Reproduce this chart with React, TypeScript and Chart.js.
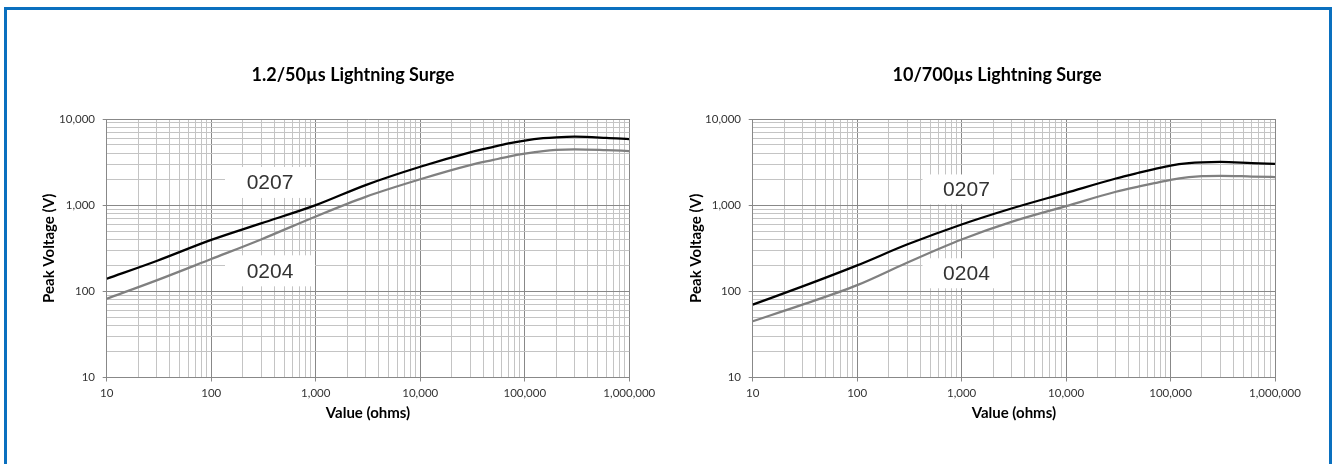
import React, { useEffect, useRef } from "react";
import { Chart, registerables } from "chart.js";

Chart.register(...registerables);

// ---- data ----
const resistanceOhms = [10, 30, 100, 300, 1000, 3000, 10000, 30000, 50000, 70000, 100000, 150000, 200000, 300000, 600000, 1000000];

const surge1250_0207 = [140, 225, 395, 615, 1000, 1710, 2790, 4100, 4750, 5200, 5620, 5980, 6130, 6230, 6050, 5850];
const surge1250_0204 = [82, 134, 237, 400, 740, 1250, 2000, 2920, 3350, 3660, 3960, 4250, 4380, 4440, 4350, 4250];

const surge10700_0207 = [70, 114, 200, 349, 597, 915, 1390, 2040, 2380, 2620, 2880, 3070, 3140, 3170, 3080, 3020];
const surge10700_0204 = [45, 70, 118, 215, 400, 640, 975, 1430, 1650, 1800, 1970, 2110, 2170, 2190, 2150, 2120];

const seriesNames = ["0207", "0204"];

const xDecades = [10, 100, 1000, 10000, 100000, 1000000];
const yDecades = [10, 100, 1000, 10000];
const minorMultipliers = [1, 2, 3, 4, 5, 6, 7, 8, 9];

// label anchor points (data coordinates)
const leftLabelX = [365, 365];
const leftLabelY = [1835, 173];
const rightLabelX = [1113, 1113];
const rightLabelY = [1522, 162];

const titles = ["1.2/50\u00b5s Lightning Surge", "10/700\u00b5s Lightning Surge"];
const xAxisTitle = "Value (ohms)";
const yAxisTitle = "Peak Voltage (V)";

// ---- helpers ----
function gridValues(decades: number[]) {
  const out: number[] = [];
  for (let i = 0; i < decades.length; i++) {
    if (i === decades.length - 1) {
      out.push(decades[i]);
      break;
    }
    for (const m of minorMultipliers) out.push(decades[i] * m);
  }
  return out;
}
function isDecade(v: any) {
  if (v === undefined || v === null || v <= 0) return false;
  const l = Math.log10(v);
  return Math.abs(l - Math.round(l)) < 1e-9;
}
const MAJOR = "#888888";
const MINOR = "#c4c4c4";
const FONT = "Lato, 'Open Sans', sans-serif";

type Box = { x: number; y: number; text: string; w: number; h: number };

function makeBoxPlugin(boxes: Box[]) {
  return {
    id: "valueBoxes",
    beforeDatasetsDraw(chart: any) {
      const { ctx, scales } = chart;
      for (const b of boxes) {
        const cx = scales.x.getPixelForValue(b.x);
        const cy = scales.y.getPixelForValue(b.y);
        ctx.save();
        ctx.fillStyle = "#ffffff";
        ctx.fillRect(cx - b.w / 2, cy - b.h / 2, b.w, b.h);
        ctx.font = '21px "Liberation Sans", Arial, sans-serif';
        ctx.fillStyle = "#333333";
        ctx.textAlign = "center";
        ctx.textBaseline = "middle";
        ctx.fillText(b.text, cx, cy + 1);
        ctx.restore();
      }
    },
  };
}

type Props = {
  left: number;
  width: number;
  title: string;
  s0207: number[];
  s0204: number[];
  padLeft: number;
  yWidth: number;
  rightWidth: number;
  boxes: Box[];
};

function SurgeChart(p: Props) {
  const ref = useRef<HTMLCanvasElement>(null);
  useEffect(() => {
    const xGrid = gridValues(xDecades);
    const yGrid = gridValues(yDecades);
    const tickFont = { family: FONT, size: 11.5 };
    const axisTitleFont = { family: FONT, size: 15, weight: "bold" as const };
    const chart = new Chart(ref.current as HTMLCanvasElement, {
      type: "line",
      data: {
        datasets: [
          {
            label: seriesNames[0],
            data: resistanceOhms.map((x, i) => ({ x, y: p.s0207[i] })),
            borderColor: "#000000",
            borderWidth: 2.25,
            pointRadius: 0,
            cubicInterpolationMode: "monotone",
            fill: false,
          },
          {
            label: seriesNames[1],
            data: resistanceOhms.map((x, i) => ({ x, y: p.s0204[i] })),
            borderColor: "#808080",
            borderWidth: 2.25,
            pointRadius: 0,
            cubicInterpolationMode: "monotone",
            fill: false,
          },
        ],
      },
      options: {
        responsive: false,
        maintainAspectRatio: false,
        animation: false,
        layout: { padding: { left: p.padLeft, right: 0, top: 0, bottom: 40.5 } },
        plugins: {
          legend: { display: false },
          tooltip: { enabled: false },
          title: {
            display: true,
            text: p.title,
            color: "#000000",
            font: { family: FONT, size: 18, weight: "bold" },
            padding: { top: 64.2, bottom: 33.2 },
          },
        },
        scales: {
          x: {
            type: "logarithmic",
            position: "bottom",
            min: 10,
            max: 1000000,
            afterBuildTicks: (s: any) => {
              s.ticks = xGrid.map((v) => ({ value: v }));
            },
            afterFit: (s: any) => {
              s.height = 46;
            },
            ticks: {
              autoSkip: false,
              maxRotation: 0,
              minRotation: 0,
              padding: 5,
              color: "#333333",
              font: tickFont,
              callback: (v: any) => (isDecade(v) ? Number(v).toLocaleString("en-US") : ""),
            },
            grid: {
              color: (c: any) => (isDecade(c.tick && c.tick.value) ? MAJOR : MINOR),
              tickColor: (c: any) => (isDecade(c.tick && c.tick.value) ? MAJOR : "rgba(0,0,0,0)"),
              lineWidth: 1,
              tickLength: 4,
            },
            border: { color: MAJOR, width: 1 },
            title: {
              display: true,
              text: xAxisTitle,
              color: "#000000",
              font: axisTitleFont,
              padding: { top: 0, bottom: 1 },
            },
          },
          y: {
            type: "logarithmic",
            position: "left",
            min: 10,
            max: 10000,
            afterBuildTicks: (s: any) => {
              s.ticks = yGrid.map((v) => ({ value: v }));
            },
            afterFit: (s: any) => {
              s.width = p.yWidth;
            },
            ticks: {
              autoSkip: false,
              padding: 7.7,
              color: "#333333",
              font: tickFont,
              callback: (v: any) => (isDecade(v) ? Number(v).toLocaleString("en-US") : ""),
            },
            grid: {
              color: (c: any) => (isDecade(c.tick && c.tick.value) ? MAJOR : MINOR),
              tickColor: (c: any) => (isDecade(c.tick && c.tick.value) ? MAJOR : "rgba(0,0,0,0)"),
              lineWidth: 1,
              tickLength: 4,
            },
            border: { color: MAJOR, width: 1 },
            title: {
              display: true,
              text: yAxisTitle,
              color: "#000000",
              font: axisTitleFont,
              padding: { top: 0, bottom: 0 },
            },
          },
          yPad: {
            type: "linear",
            position: "right",
            display: true,
            grid: { display: false },
            ticks: { display: false },
            border: { display: false },
            afterFit: (s: any) => {
              s.width = p.rightWidth;
            },
          },
        },
      } as any,
      plugins: [makeBoxPlugin(p.boxes)],
    } as any);
    return () => chart.destroy();
  }, []);
  return (
    <canvas
      ref={ref}
      width={p.width}
      height={464}
      style={{ position: "absolute", left: p.left, top: 0, width: p.width, height: 464 }}
    />
  );
}

export default function App() {
  const leftBoxes: Box[] = seriesNames.map((t, i) => ({ x: leftLabelX[i], y: leftLabelY[i], text: t, w: 90, h: 31 }));
  const rightBoxes: Box[] = seriesNames.map((t, i) => ({ x: rightLabelX[i], y: rightLabelY[i], text: t, w: 88, h: 30 }));
  return (
    <div
      style={{
        position: "fixed",
        left: 0,
        top: 0,
        width: 1332,
        height: 464,
        background: "#ffffff",
        overflow: "hidden",
      }}
    >
      <div
        style={{
          position: "absolute",
          left: 4,
          top: 7,
          width: 1328,
          height: 480,
          border: "3px solid #0a70bf",
          boxSizing: "border-box",
        }}
      />
      <SurgeChart
        left={0}
        width={666}
        title={titles[0]}
        s0207={surge1250_0207}
        s0204={surge1250_0204}
        padLeft={40}
        yWidth={66.7}
        rightWidth={36.7}
        boxes={leftBoxes}
      />
      <SurgeChart
        left={666}
        width={641}
        title={titles[1]}
        s0207={surge10700_0207}
        s0204={surge10700_0204}
        padLeft={21.3}
        yWidth={65.4}
        rightWidth={32}
        boxes={rightBoxes}
      />
    </div>
  );
}
